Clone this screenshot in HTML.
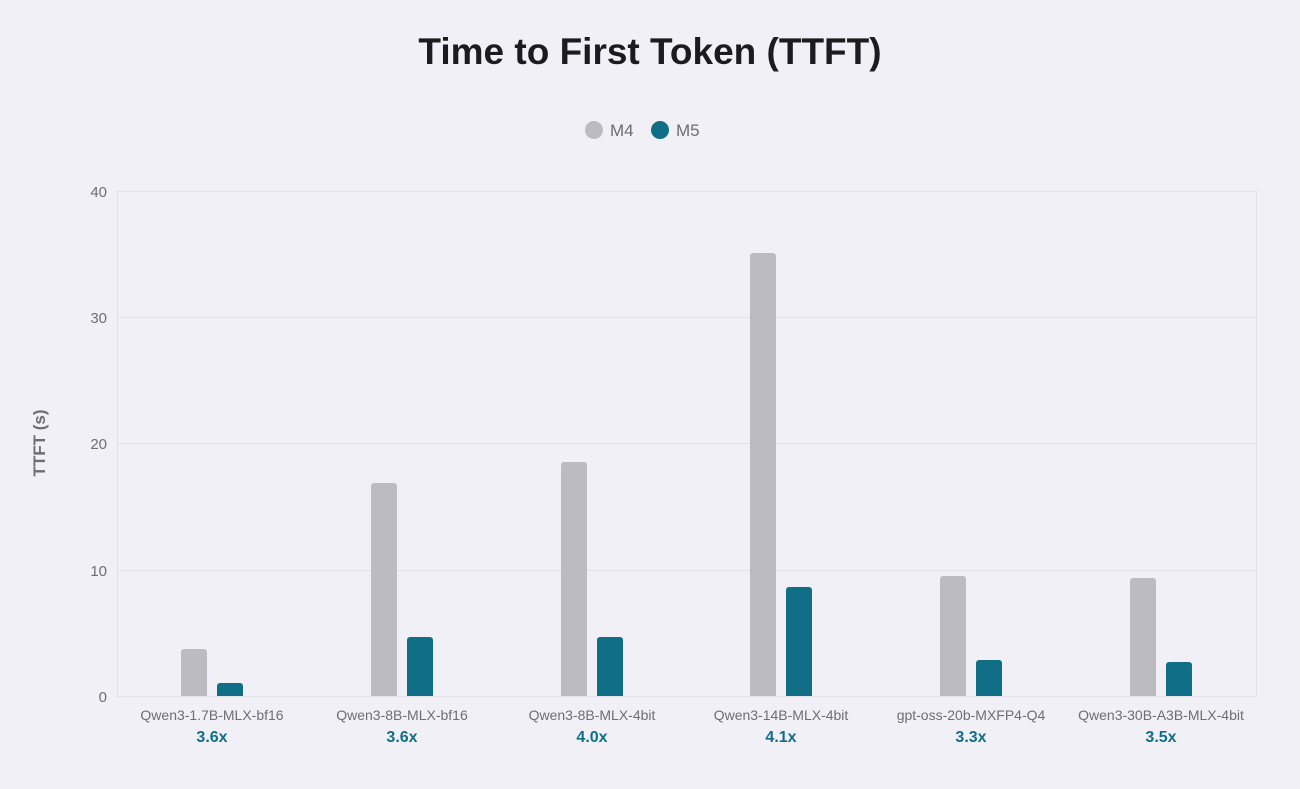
<!DOCTYPE html>
<html><head><meta charset="utf-8"><style>
html,body{margin:0;padding:0;background:#f1f0f6;}
svg{display:block;font-family:"Liberation Sans",sans-serif;}
</style></head><body>
<svg width="1300" height="789" viewBox="0 0 1300 789">
<rect width="1300" height="789" fill="#f1f0f6"/>
<text x="650" y="64" text-anchor="middle" font-size="37" font-weight="bold" fill="#1c1c1e">Time to First Token (TTFT)</text>
<circle cx="594" cy="130" r="9" fill="#bcbbc1"/>
<text x="610" y="136" font-size="17" fill="#6d6d72">M4</text>
<circle cx="660" cy="130" r="9" fill="#106f86"/>
<text x="676" y="136" font-size="17" fill="#6d6d72">M5</text>
<g stroke="#e2e1e7" stroke-width="1">
<line x1="117" y1="191.5" x2="1256" y2="191.5"/>
<line x1="117" y1="317.5" x2="1256" y2="317.5"/>
<line x1="117" y1="443.5" x2="1256" y2="443.5"/>
<line x1="117" y1="570.5" x2="1256" y2="570.5"/>
<line x1="117" y1="696.5" x2="1256" y2="696.5"/>
<line x1="117.5" y1="191" x2="117.5" y2="696"/>
<line x1="1256.5" y1="191" x2="1256.5" y2="696"/>
</g>
<g font-size="15" fill="#6d6d72" text-anchor="end">
<text x="107" y="197">40</text><text x="107" y="323">30</text><text x="107" y="449">20</text><text x="107" y="576">10</text><text x="107" y="702">0</text>
</g>
<text transform="translate(45,443) rotate(-90)" text-anchor="middle" font-size="17" font-weight="bold" fill="#6d6d72">TTFT (s)</text>
<g fill="#bcbbc1">
<rect x="181" y="649" width="26" height="50" rx="3"/>
<rect x="371" y="483" width="26" height="216" rx="3"/>
<rect x="561" y="462" width="26" height="237" rx="3"/>
<rect x="750" y="253" width="26" height="446" rx="3"/>
<rect x="940" y="576" width="26" height="123" rx="3"/>
<rect x="1130" y="578" width="26" height="121" rx="3"/>
</g>
<g fill="#106f86">
<rect x="217" y="683" width="26" height="16" rx="3"/>
<rect x="407" y="637" width="26" height="62" rx="3"/>
<rect x="597" y="637" width="26" height="62" rx="3"/>
<rect x="786" y="587" width="26" height="112" rx="3"/>
<rect x="976" y="660" width="26" height="39" rx="3"/>
<rect x="1166" y="662" width="26" height="37" rx="3"/>
</g>
<rect x="117" y="697" width="1139" height="5" fill="#f1f0f6"/>
<line x1="117" y1="696.5" x2="1256" y2="696.5" stroke="#e2e1e7"/>
<g font-size="14" fill="#6d6d72" text-anchor="middle">
<text x="212" y="720">Qwen3-1.7B-MLX-bf16</text>
<text x="402" y="720">Qwen3-8B-MLX-bf16</text>
<text x="592" y="720">Qwen3-8B-MLX-4bit</text>
<text x="781" y="720">Qwen3-14B-MLX-4bit</text>
<text x="971" y="720">gpt-oss-20b-MXFP4-Q4</text>
<text x="1161" y="720">Qwen3-30B-A3B-MLX-4bit</text>
</g>
<g font-size="16" font-weight="bold" fill="#106f86" text-anchor="middle">
<text x="212" y="742">3.6x</text>
<text x="402" y="742">3.6x</text>
<text x="592" y="742">4.0x</text>
<text x="781" y="742">4.1x</text>
<text x="971" y="742">3.3x</text>
<text x="1161" y="742">3.5x</text>
</g>
</svg>
</body></html>
